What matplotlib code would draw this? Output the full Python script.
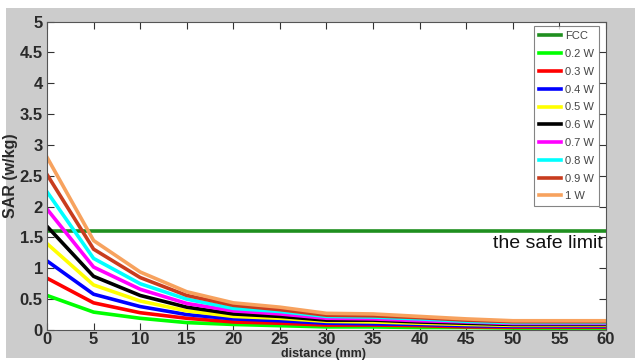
import matplotlib
matplotlib.use("Agg")
import matplotlib.pyplot as plt
from matplotlib.patches import Rectangle

# distance from the antenna (mm)
distance = [0, 5, 10, 15, 20, 25, 30, 35, 40, 45, 50, 55, 60]

# SAR (w/kg) per transmit power
sar_02 = [0.56, 0.29, 0.19, 0.12, 0.09, 0.07, 0.05, 0.05, 0.04, 0.04, 0.03, 0.03, 0.03]
sar_03 = [0.84, 0.44, 0.28, 0.19, 0.13, 0.11, 0.08, 0.08, 0.07, 0.05, 0.045, 0.045, 0.045]
sar_04 = [1.12, 0.58, 0.38, 0.25, 0.18, 0.15, 0.11, 0.10, 0.09, 0.07, 0.06, 0.06, 0.06]
sar_05 = [1.40, 0.73, 0.47, 0.31, 0.22, 0.19, 0.14, 0.13, 0.11, 0.09, 0.075, 0.075, 0.075]
sar_06 = [1.68, 0.87, 0.56, 0.37, 0.26, 0.22, 0.16, 0.16, 0.13, 0.11, 0.09, 0.09, 0.09]
sar_07 = [1.96, 1.02, 0.66, 0.43, 0.31, 0.26, 0.19, 0.18, 0.15, 0.13, 0.105, 0.105, 0.105]
sar_08 = [2.24, 1.16, 0.75, 0.50, 0.35, 0.30, 0.22, 0.21, 0.18, 0.14, 0.12, 0.12, 0.12]
sar_09 = [2.52, 1.31, 0.85, 0.56, 0.40, 0.33, 0.24, 0.23, 0.20, 0.16, 0.135, 0.135, 0.135]
sar_10 = [2.80, 1.45, 0.94, 0.62, 0.44, 0.37, 0.27, 0.26, 0.22, 0.18, 0.15, 0.15, 0.15]

fcc_limit = 1.6

labels = ["0.2 W", "0.3 W", "0.4 W", "0.5 W", "0.6 W", "0.7 W", "0.8 W", "0.9 W", "1 W"]
series = [sar_02, sar_03, sar_04, sar_05, sar_06, sar_07, sar_08, sar_09, sar_10]
colors = ["#00ff00", "#ff0000", "#0000ff", "#ffff00", "#000000",
          "#ff00ff", "#00ffff", "#c83c1e", "#f7a25e"]

plt.rcParams["font.family"] = ["Liberation Sans", "DejaVu Sans"]

fig = plt.figure(figsize=(6.35, 3.6), dpi=100)
fig.patch.set_facecolor("white")
# grey window background
fig.patches.append(Rectangle((6 / 635, 2 / 360), 1, 350 / 360, transform=fig.transFigure,
                             facecolor="#cccccc", edgecolor="none", zorder=-5))

ax = fig.add_axes([47 / 635, 30 / 360, 559 / 635, 308.5 / 360])
ax.set_facecolor("white")

ax.plot([distance[0], distance[-1]], [fcc_limit, fcc_limit], color="#1f8f1f", lw=2.6, label="FCC")
for vals, lab, c in zip(series, labels, colors):
    ax.plot(distance, vals, color=c, lw=2.6, label=lab)

ax.set_xlim(0, 60)
ax.set_ylim(0, 5)
ax.set_xticks(range(0, 61, 5))
ax.set_yticks([i * 0.5 for i in range(11)])
ax.set_yticklabels(["0", "0.5", "1", "1.5", "2", "2.5", "3", "3.5", "4", "4.5", "5"])
ax.tick_params(direction="in", length=5, top=True, right=True, labelsize=12,
               colors="#333333", width=0.8, pad=3)
ax.tick_params(axis="x", pad=1.5)
for t in ax.get_xticklabels() + ax.get_yticklabels():
    t.set_fontweight("bold")
    t.set_color("#2a2a2a")
for s in ax.spines.values():
    s.set_color("#555555")
    s.set_linewidth(0.8)

ax.set_xlabel("distance (mm)", fontsize=9, fontweight="bold", color="#2a2a2a")
ax.xaxis.set_label_coords(0.494, -0.059)
ax.set_ylabel("SAR (w/kg)", fontsize=11.5, fontweight="bold", color="#2a2a2a")
ax.yaxis.set_label_coords(-0.052, 0.5)

ax.text(59.7, 1.4, "the safe limit", fontsize=14, ha="right", va="center", color="#111111")

leg = ax.legend(loc="upper right", bbox_to_anchor=(0.993, 0.995), fontsize=8, frameon=True,
                fancybox=False, edgecolor="#666666", handlelength=2.0, handletextpad=0.3,
                labelspacing=0.7, borderpad=0.45, borderaxespad=0.3)
leg.get_frame().set_linewidth(0.8)
for t in leg.get_texts():
    t.set_color("#444444")

fig.savefig("out.png", dpi=100, facecolor="white")
